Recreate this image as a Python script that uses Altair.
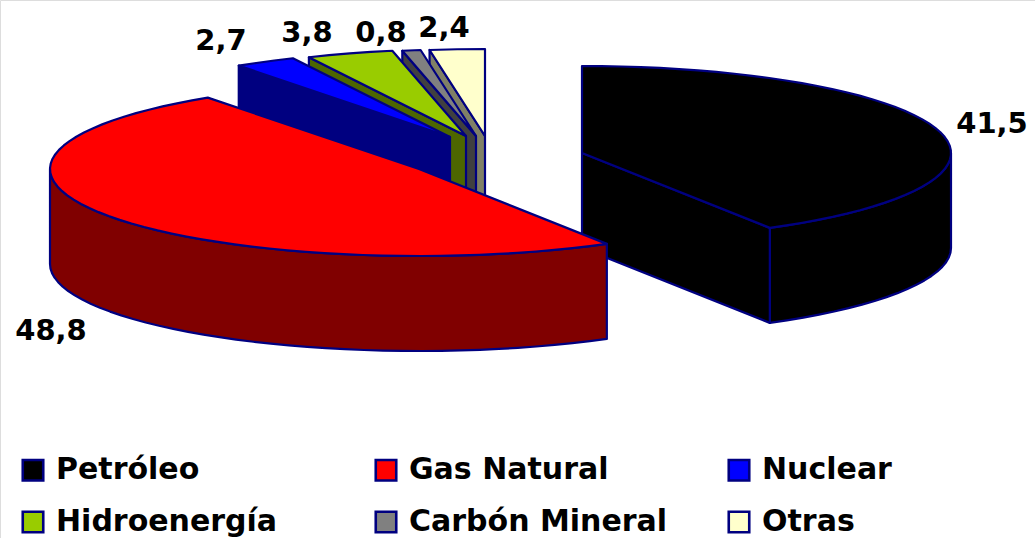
import math
import altair as alt
import pandas as pd

# Shares of the energy supply, in percent
fuels = ["Petróleo", "Gas Natural", "Nuclear", "Hidroenergía", "Carbón Mineral", "Otras"]
shares = [41.5, 48.8, 2.7, 3.8, 0.8, 2.4]
share_labels = ["41,5", "48,8", "2,7", "3,8", "0,8", "2,4"]

top_colours = ["#000000", "#FF0000", "#0000FF", "#99CC00", "#808080", "#FFFFCC"]
side_colours = ["#000000", "#800000", "#000080", "#4D6600", "#404040", "#808066"]
OUTLINE = "#000080"

# Pie projection: ellipse radii and extrusion depth
RX, RY, DEPTH = 369, 87, 95
# Where each exploded wedge has its tip
tips = [(582, 153), (419, 169), (450, 137), (466, 136), (476, 136), (485, 136)]
# Paint back to front so nearer wedges cover farther ones
paint_order = [0, 5, 4, 3, 2, 1]
# Label anchors (centre, baseline)
label_anchors = [(992, 133), (51, 340), (221, 50), (307, 42), (381, 42), (444, 37)]


def rim_point(tip, angle, drop=0):
    rad = math.radians(angle)
    return [tip[0] + RX * math.sin(rad), tip[1] - RY * math.cos(rad) + drop]


def arc(tip, start, end, drop=0, step=3):
    n = max(2, int(abs(end - start) / step) + 1)
    return [rim_point(tip, start + (end - start) * i / (n - 1), drop) for i in range(n)]


def feature(name, ring):
    return {
        "type": "Feature",
        "properties": {"part": name},
        "geometry": {"type": "Polygon", "coordinates": [ring + [ring[0]]]},
    }


# Clockwise angle at which each wedge starts and ends
edges = [0]
for s in shares:
    edges.append(edges[-1] + s / sum(shares) * 360)

features = []
for i in paint_order:
    tip, a0, a1 = tips[i], edges[i], edges[i + 1]
    side = fuels[i] + " (lado)"
    low, high = max(a0, 90), min(a1, 270)
    # Outer wall, only where the rim faces the viewer
    if low < high:
        features.append(feature(side, arc(tip, low, high) + arc(tip, high, low, DEPTH)))
    # Radial cut faces that look toward the viewer
    bottom_tip = [tip[0], tip[1] + DEPTH]
    if a1 < 180:
        features.append(feature(side, [list(tip), rim_point(tip, a1), rim_point(tip, a1, DEPTH), bottom_tip]))
    if a0 > 270:
        features.append(feature(side, [list(tip), rim_point(tip, a0), rim_point(tip, a0, DEPTH), bottom_tip]))
    # Top face
    features.append(feature(fuels[i], [list(tip)] + arc(tip, a0, a1)))

geo = alt.Data(values={"type": "FeatureCollection", "features": features},
               format=alt.DataFormat(type="json", property="features"))

domain = fuels + [f + " (lado)" for f in fuels]
palette = top_colours + side_colours

pie = (
    alt.Chart(geo)
    .mark_geoshape(stroke=OUTLINE, strokeWidth=2.2, strokeJoin="round")
    .encode(
        color=alt.Color(
            "properties.part:N",
            scale=alt.Scale(domain=domain, range=palette),
            legend=alt.Legend(
                values=fuels,
                title=None,
                orient="none",
                legendX=18,
                legendY=455,
                direction="horizontal",
                columns=3,
                gridAlign="all",
                columnPadding=55,
                rowPadding=20,
                symbolType="square",
                symbolSize=420,
                symbolStrokeColor=OUTLINE,
                symbolStrokeWidth=2.6,
                labelFont="DejaVu Sans",
                labelFontWeight="bold",
                labelFontSize=30,
                labelColor="#000000",
                labelOffset=8,
                labelLimit=400,
            ),
        )
    )
    .project(type="identity", scale=1, translate=[0, 0])
)

labels = pd.DataFrame({
    "text": share_labels,
    "px": [a[0] for a in label_anchors],
    "py": [a[1] for a in label_anchors],
})

value_text = (
    alt.Chart(labels)
    .mark_text(font="DejaVu Sans", fontWeight="bold", fontSize=29, color="#000000",
               align="center", baseline="alphabetic")
    .encode(
        x=alt.X("px:Q", scale=alt.Scale(domain=[0, 1035]), axis=None),
        y=alt.Y("py:Q", scale=alt.Scale(domain=[538, 0]), axis=None),
        text="text:N",
    )
)

chart = (
    alt.layer(pie, value_text)
    .properties(width=1035, height=538, padding=0, autosize=alt.AutoSizeParams(type="none"))
    .configure_view(stroke=None)
    .configure(background="#FFFFFF")
)

chart.save("out.html", embed_options={"renderer": "svg", "actions": False})
